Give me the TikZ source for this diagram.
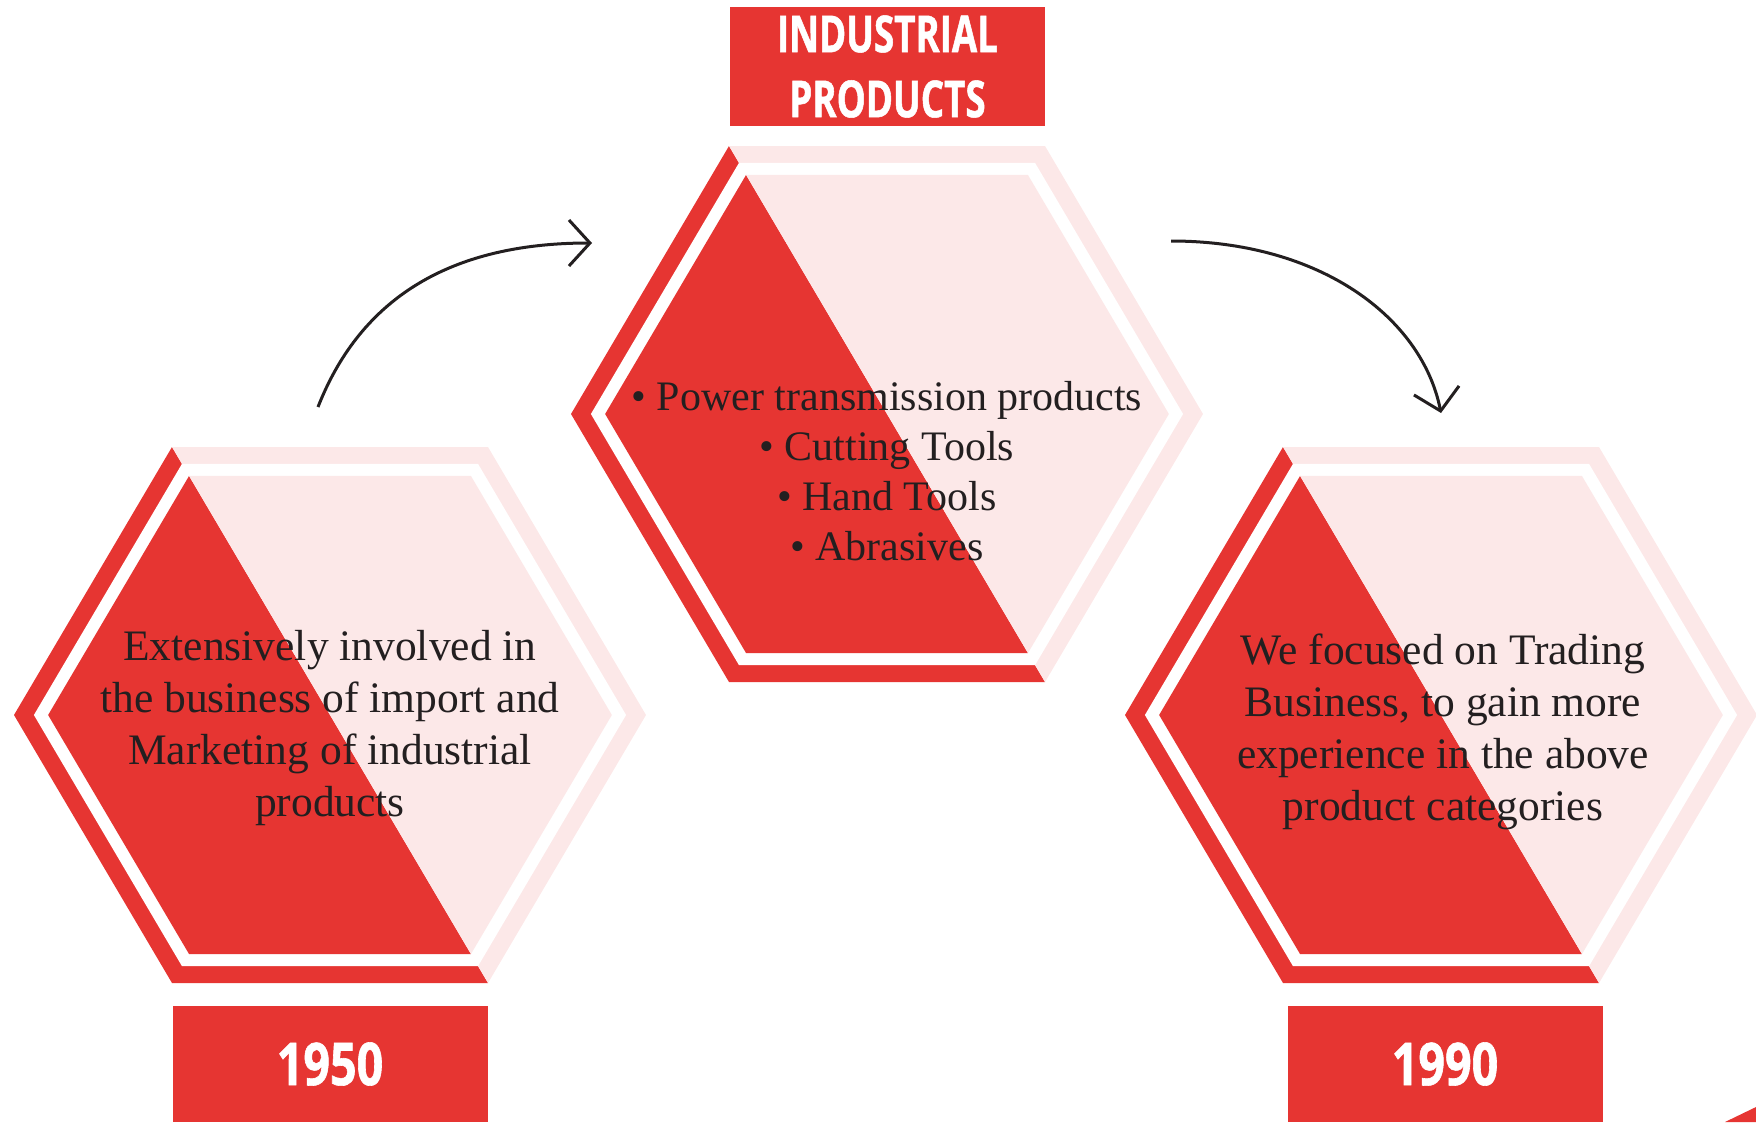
\documentclass[tikz,border=0pt]{standalone}
\usepackage{fontspec}
\setmainfont{Liberation Serif}
\newfontfamily\titlefont[FakeStretch=0.72,FakeBold=1]{Open Sans}
\newfontfamily\yearfont[FakeStretch=0.79,FakeBold=1]{Open Sans}
\usetikzlibrary{arrows.meta}
\definecolor{hexred}{HTML}{E63532}
\definecolor{hexpink}{HTML}{FCE8E8}
\definecolor{ink}{HTML}{231F20}

\begin{document}
\begin{tikzpicture}[x=1pt,y=-1pt]

\tikzset{box/.style = {fill=hexred, text=white, inner sep=0pt, minimum width=315pt, align=center}}
\tikzset{info/.style = {text=ink, align=center, inner sep=0pt, font=\fontsize{43.5}{52}\selectfont}}
\tikzset{flow/.style = {-{Straight Barb[length=21pt,width=46pt]}, line width=3pt, draw=ink}}
\tikzset{hexa/.pic = {
  \fill[hexred] (-158,-268) -- (-316,0) -- (-158,268) -- (158,268) -- cycle;
  \fill[hexpink] (-158,-268) -- (158,-268) -- (316,0) -- (158,268) -- cycle;
  \fill[white, scale=0.937] (-316,0) -- (-158,-268) -- (158,-268) -- (316,0) -- (158,268) -- (-158,268) -- cycle;
  \fill[hexred, scale=0.892] (-158,-268) -- (-316,0) -- (-158,268) -- (158,268) -- cycle;
  \fill[hexpink, scale=0.892] (-158,-268) -- (158,-268) -- (316,0) -- (158,268) -- cycle;
}}

\useasboundingbox (0,0) rectangle (1756,1122);

%hexagons
\pic (hexpast) at (330,715) {hexa};
\pic (hexrange) at (887,414) {hexa};
\pic (hexnow) at (1441,715) {hexa};
\fill[hexred] (1725,1122) -- (1756,1107) -- (1756,1122) -- cycle;

%labels
\node[box, minimum height=119pt, font=\titlefont\bfseries\fontsize{51}{65}\selectfont] (title) at (887.5,66.5) {INDUSTRIAL\\PRODUCTS};
\node[box, minimum height=116pt, font=\yearfont\bfseries\fontsize{59}{60}\selectfont] (start) at (330,1064) {1950};
\node[box, minimum height=116pt, font=\yearfont\bfseries\fontsize{59}{60}\selectfont] (finish) at (1445,1064) {1990};

\node[info] (past) at (330,728) {Extensively involved in\\the business of import and\\Marketing of industrial\\products};
\node[info, font=\fontsize{42}{50}\selectfont] (range) at (887,471) {\textbullet{} Power transmission products\\\textbullet{} Cutting Tools\\\textbullet{} Hand Tools\\\textbullet{} Abrasives};
\node[info] (now) at (1443,732) {We focused on Trading\\Business, to gain more\\experience in the above\\product categories};

%arrows
\coordinate (riseS) at (318,407);
\coordinate (riseE) at (592,243);
\coordinate (fallS) at (1171,241);
\coordinate (fallE) at (1441,413);
\draw[flow] (riseS) .. controls (358,305) and (442,243) .. (riseE);
\draw[flow] (fallS) .. controls (1321,241) and (1422,318) .. (fallE);

\end{tikzpicture}
\end{document}
